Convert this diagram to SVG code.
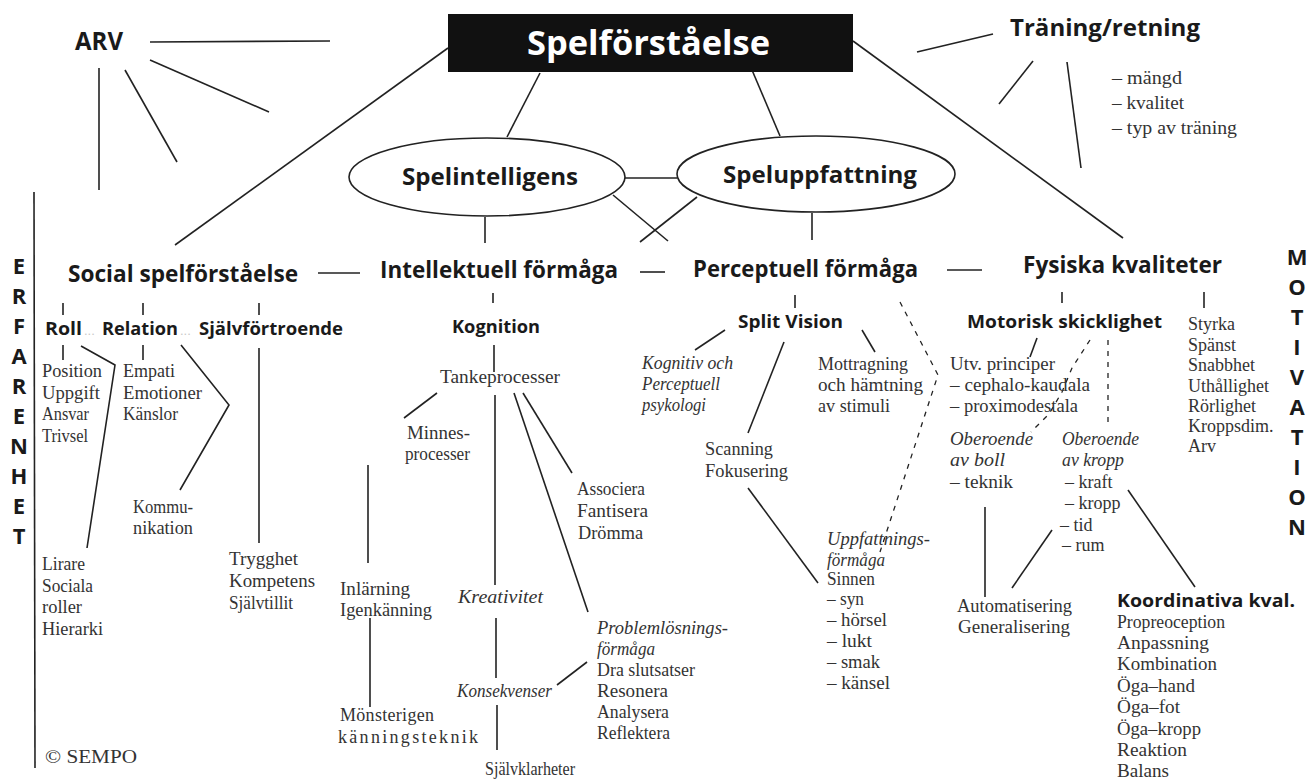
<svg xmlns="http://www.w3.org/2000/svg" width="1309" height="781" viewBox="0 0 1309 781">
<style>
.b{font-family:"Open Sans","Liberation Sans",sans-serif;font-weight:700;fill:#1a1a1a}
.s{font-family:"Liberation Serif","Times New Roman",serif;font-size:18px;fill:#333}
.i{font-style:italic}
.c line,.c polyline{stroke:#222;stroke-width:1.6;fill:none}
.c .d{stroke-dasharray:5 6;stroke-width:1.3}
.dots{font-family:"Liberation Sans",sans-serif;font-size:13px;fill:#c8c8c8}
</style>
<rect width="1309" height="781" fill="#fff"/>

<g id="connectors" class="c">
<line x1="150" y1="42" x2="330" y2="41"/>
<line x1="150" y1="60" x2="269" y2="112"/>
<line x1="125" y1="70" x2="177" y2="162"/>
<line x1="99" y1="68" x2="99" y2="190"/>
<line x1="34" y1="192" x2="35" y2="768"/>
<line x1="448" y1="48" x2="175" y2="245"/>
<line x1="540" y1="73" x2="507" y2="137"/>
<line x1="752" y1="70" x2="780" y2="136"/>
<line x1="853" y1="41" x2="1123" y2="238"/>
<line x1="917" y1="52" x2="993" y2="34"/>
<line x1="1033" y1="61" x2="999" y2="104"/>
<line x1="1067" y1="62" x2="1081" y2="168"/>
<line x1="625" y1="178" x2="677" y2="178"/>
<line x1="613" y1="195" x2="668" y2="241"/>
<line x1="697" y1="197" x2="640" y2="242"/>
<line x1="485" y1="217" x2="485" y2="243"/>
<line x1="812" y1="213" x2="812" y2="240"/>
<line x1="318" y1="273" x2="360" y2="273"/>
<line x1="640" y1="272" x2="665" y2="272"/>
<line x1="947" y1="270" x2="982" y2="270"/>
<line x1="63" y1="303" x2="63" y2="315"/>
<line x1="143" y1="303" x2="143" y2="315"/>
<line x1="259" y1="303" x2="259" y2="315"/>
<line x1="63" y1="345" x2="63" y2="360"/>
<line x1="143" y1="345" x2="143" y2="360"/>
<polyline points="81,346 115,365 87,548"/>
<polyline points="181,345 229,405 180,490"/>
<line x1="259" y1="348" x2="259" y2="543"/>
<line x1="493" y1="293" x2="493" y2="303"/>
<line x1="494" y1="345" x2="494" y2="372"/>
<line x1="437" y1="393" x2="404" y2="418"/>
<line x1="368" y1="465" x2="368" y2="563"/>
<line x1="370" y1="618" x2="370" y2="707"/>
<line x1="495" y1="395" x2="495" y2="585"/>
<line x1="514" y1="393" x2="588" y2="612"/>
<line x1="523" y1="393" x2="572" y2="473"/>
<line x1="496" y1="618" x2="496" y2="678"/>
<line x1="557" y1="685" x2="587" y2="662"/>
<line x1="497" y1="705" x2="497" y2="750"/>
<line x1="795" y1="295" x2="795" y2="308"/>
<line x1="725" y1="330" x2="695" y2="350"/>
<line x1="784" y1="342" x2="748" y2="433"/>
<line x1="862" y1="330" x2="875" y2="352"/>
<line x1="748" y1="488" x2="818" y2="583"/>
<polyline class="d" points="900,302 938,375 880,552"/>
<line x1="1062" y1="292" x2="1062" y2="303"/>
<line x1="1204" y1="292" x2="1204" y2="308"/>
<line x1="1037" y1="338" x2="1030" y2="357"/>
<polyline class="d" points="1090,340 1072,368 1062,392 1049,414 1031,432"/>
<line class="d" x1="1108" y1="340" x2="1108" y2="427"/>
<line x1="985" y1="507" x2="985" y2="597"/>
<line x1="1012" y1="588" x2="1052" y2="530"/>
<line x1="1128" y1="490" x2="1195" y2="587"/>
</g>

<g id="spelforstaelse">
<rect x="448" y="14" width="405" height="58" fill="#111"/>
<text class="b" x="527" y="55" font-size="34" textLength="243" lengthAdjust="spacingAndGlyphs" style="fill:#fff">Spelförståelse</text>
</g>

<g id="arv"><text class="b" x="75" y="50" font-size="25" textLength="48" lengthAdjust="spacingAndGlyphs">ARV</text></g>

<g id="traning">
<text class="b" x="1010" y="36" font-size="23" textLength="190" lengthAdjust="spacingAndGlyphs">Träning/retning</text>
<text class="s" x="1112" y="84" font-size="17" textLength="70" lengthAdjust="spacingAndGlyphs">– mängd</text>
<text class="s" x="1112" y="109" font-size="17" textLength="72" lengthAdjust="spacingAndGlyphs">– kvalitet</text>
<text class="s" x="1112" y="134" font-size="17" textLength="125" lengthAdjust="spacingAndGlyphs">– typ av träning</text>
</g>

<g id="spelintelligens">
<ellipse cx="487" cy="177" rx="138" ry="39" fill="#fff" stroke="#222" stroke-width="1.6"/>
<text class="b" x="402" y="185" font-size="23" textLength="176" lengthAdjust="spacingAndGlyphs">Spelintelligens</text>
</g>

<g id="speluppfattning">
<ellipse cx="816" cy="174" rx="139" ry="38" fill="#fff" stroke="#222" stroke-width="1.6"/>
<text class="b" x="723" y="183" font-size="23" textLength="194" lengthAdjust="spacingAndGlyphs">Speluppfattning</text>
</g>

<g id="erfarenhet" class="b" font-size="22" text-anchor="middle">
<text x="19" y="274">E</text><text x="19" y="304">R</text><text x="19" y="334">F</text><text x="19" y="364">A</text><text x="19" y="394">R</text><text x="19" y="424">E</text><text x="19" y="454">N</text><text x="19" y="484">H</text><text x="19" y="514">E</text><text x="19" y="544">T</text>
</g>

<g id="motivation" class="b" font-size="22" text-anchor="middle">
<text x="1297" y="265">M</text><text x="1297" y="295">O</text><text x="1297" y="325">T</text><text x="1297" y="355">I</text><text x="1297" y="385">V</text><text x="1297" y="415">A</text><text x="1297" y="445">T</text><text x="1297" y="475">I</text><text x="1297" y="505">O</text><text x="1297" y="535">N</text>
</g>

<g id="social">
<text class="b" x="68" y="282" font-size="23" textLength="230" lengthAdjust="spacingAndGlyphs">Social spelförståelse</text>
<text class="b" x="45" y="335" font-size="17" textLength="37" lengthAdjust="spacingAndGlyphs">Roll</text>
<text class="dots" x="84" y="335">...</text>
<text class="b" x="102" y="335" font-size="17" textLength="76" lengthAdjust="spacingAndGlyphs">Relation</text>
<text class="dots" x="180" y="335">...</text>
<text class="b" x="199" y="335" font-size="17" textLength="144" lengthAdjust="spacingAndGlyphs">Självförtroende</text>
<text class="s" x="42" y="377" textLength="60" lengthAdjust="spacingAndGlyphs">Position</text>
<text class="s" x="42" y="399" textLength="58" lengthAdjust="spacingAndGlyphs">Uppgift</text>
<text class="s" x="42" y="420" textLength="47" lengthAdjust="spacingAndGlyphs">Ansvar</text>
<text class="s" x="42" y="442" textLength="46" lengthAdjust="spacingAndGlyphs">Trivsel</text>
<text class="s" x="123" y="377" textLength="52" lengthAdjust="spacingAndGlyphs">Empati</text>
<text class="s" x="123" y="399" textLength="79" lengthAdjust="spacingAndGlyphs">Emotioner</text>
<text class="s" x="123" y="420" textLength="55" lengthAdjust="spacingAndGlyphs">Känslor</text>
<text class="s" x="133" y="513" textLength="60" lengthAdjust="spacingAndGlyphs">Kommu-</text>
<text class="s" x="133" y="534" textLength="60" lengthAdjust="spacingAndGlyphs">nikation</text>
<text class="s" x="42" y="570" textLength="43" lengthAdjust="spacingAndGlyphs">Lirare</text>
<text class="s" x="42" y="592" textLength="51" lengthAdjust="spacingAndGlyphs">Sociala</text>
<text class="s" x="42" y="613" textLength="40" lengthAdjust="spacingAndGlyphs">roller</text>
<text class="s" x="42" y="635" textLength="61" lengthAdjust="spacingAndGlyphs">Hierarki</text>
<text class="s" x="229" y="565" textLength="69" lengthAdjust="spacingAndGlyphs">Trygghet</text>
<text class="s" x="229" y="587" textLength="86" lengthAdjust="spacingAndGlyphs">Kompetens</text>
<text class="s" x="229" y="609" textLength="64" lengthAdjust="spacingAndGlyphs">Självtillit</text>
</g>

<g id="intellektuell">
<text class="b" x="380" y="278" font-size="23" textLength="238" lengthAdjust="spacingAndGlyphs">Intellektuell förmåga</text>
<text class="b" x="452" y="333" font-size="17" textLength="88" lengthAdjust="spacingAndGlyphs">Kognition</text>
<text class="s" x="440" y="383" textLength="120" lengthAdjust="spacingAndGlyphs">Tankeprocesser</text>
<text class="s" x="407" y="439" textLength="63" lengthAdjust="spacingAndGlyphs">Minnes-</text>
<text class="s" x="405" y="460" textLength="65" lengthAdjust="spacingAndGlyphs">processer</text>
<text class="s" x="577" y="495" textLength="68" lengthAdjust="spacingAndGlyphs">Associera</text>
<text class="s" x="577" y="517" textLength="71" lengthAdjust="spacingAndGlyphs">Fantisera</text>
<text class="s" x="578" y="539" textLength="65" lengthAdjust="spacingAndGlyphs">Drömma</text>
<text class="s" x="340" y="595" textLength="70" lengthAdjust="spacingAndGlyphs">Inlärning</text>
<text class="s" x="340" y="616" textLength="92" lengthAdjust="spacingAndGlyphs">Igenkänning</text>
<text class="s" x="340" y="721" textLength="94" lengthAdjust="spacing">Mönsterigen</text>
<text class="s" x="338" y="743" textLength="140" lengthAdjust="spacing">känningsteknik</text>
<text class="s i" x="458" y="603" textLength="85" lengthAdjust="spacingAndGlyphs">Kreativitet</text>
<text class="s i" x="457" y="697" textLength="95" lengthAdjust="spacingAndGlyphs">Konsekvenser</text>
<text class="s" x="485" y="775" textLength="90" lengthAdjust="spacingAndGlyphs">Självklarheter</text>
<text class="s i" x="597" y="634" textLength="131" lengthAdjust="spacingAndGlyphs">Problemlösnings-</text>
<text class="s i" x="597" y="655" textLength="58" lengthAdjust="spacingAndGlyphs">förmåga</text>
<text class="s" x="597" y="676" textLength="98" lengthAdjust="spacingAndGlyphs">Dra slutsatser</text>
<text class="s" x="597" y="697" textLength="71" lengthAdjust="spacingAndGlyphs">Resonera</text>
<text class="s" x="597" y="718" textLength="72" lengthAdjust="spacingAndGlyphs">Analysera</text>
<text class="s" x="597" y="739" textLength="73" lengthAdjust="spacingAndGlyphs">Reflektera</text>
</g>

<g id="perceptuell">
<text class="b" x="693" y="277" font-size="23" textLength="225" lengthAdjust="spacingAndGlyphs">Perceptuell förmåga</text>
<text class="b" x="738" y="328" font-size="17" textLength="105" lengthAdjust="spacingAndGlyphs">Split Vision</text>
<text class="s i" x="642" y="369" textLength="91" lengthAdjust="spacingAndGlyphs">Kognitiv och</text>
<text class="s i" x="642" y="390" textLength="78" lengthAdjust="spacingAndGlyphs">Perceptuell</text>
<text class="s i" x="642" y="411" textLength="64" lengthAdjust="spacingAndGlyphs">psykologi</text>
<text class="s" x="818" y="370" textLength="90" lengthAdjust="spacingAndGlyphs">Mottragning</text>
<text class="s" x="818" y="391" textLength="105" lengthAdjust="spacingAndGlyphs">och hämtning</text>
<text class="s" x="818" y="412" textLength="72" lengthAdjust="spacingAndGlyphs">av stimuli</text>
<text class="s" x="705" y="455" textLength="68" lengthAdjust="spacingAndGlyphs">Scanning</text>
<text class="s" x="705" y="477" textLength="83" lengthAdjust="spacingAndGlyphs">Fokusering</text>
<text class="s i" x="827" y="545" textLength="103" lengthAdjust="spacingAndGlyphs">Uppfattnings-</text>
<text class="s i" x="827" y="566" textLength="58" lengthAdjust="spacingAndGlyphs">förmåga</text>
<text class="s" x="827" y="585" textLength="48" lengthAdjust="spacingAndGlyphs">Sinnen</text>
<text class="s" x="827" y="605" textLength="37" lengthAdjust="spacingAndGlyphs">– syn</text>
<text class="s" x="827" y="626" textLength="60" lengthAdjust="spacingAndGlyphs">– hörsel</text>
<text class="s" x="827" y="647" textLength="45" lengthAdjust="spacingAndGlyphs">– lukt</text>
<text class="s" x="827" y="668" textLength="53" lengthAdjust="spacingAndGlyphs">– smak</text>
<text class="s" x="827" y="689" textLength="63" lengthAdjust="spacingAndGlyphs">– känsel</text>
</g>

<g id="fysiska">
<text class="b" x="1023" y="273" font-size="23" textLength="199" lengthAdjust="spacingAndGlyphs">Fysiska kvaliteter</text>
<text class="b" x="967" y="328" font-size="17" textLength="195" lengthAdjust="spacingAndGlyphs">Motorisk skicklighet</text>
<text class="s" x="950" y="370" textLength="105" lengthAdjust="spacingAndGlyphs">Utv. principer</text>
<text class="s" x="950" y="391" textLength="140" lengthAdjust="spacingAndGlyphs">– cephalo-kaudala</text>
<text class="s" x="950" y="412" textLength="128" lengthAdjust="spacingAndGlyphs">– proximodestala</text>
<text class="s i" x="950" y="445" textLength="83" lengthAdjust="spacingAndGlyphs">Oberoende</text>
<text class="s i" x="950" y="466" textLength="55" lengthAdjust="spacingAndGlyphs">av boll</text>
<text class="s" x="950" y="488" textLength="63" lengthAdjust="spacingAndGlyphs">– teknik</text>
<text class="s i" x="1062" y="445" textLength="77" lengthAdjust="spacingAndGlyphs">Oberoende</text>
<text class="s i" x="1062" y="466" textLength="62" lengthAdjust="spacingAndGlyphs">av kropp</text>
<text class="s" x="1065" y="488" font-size="17">– kraft</text>
<text class="s" x="1065" y="509" font-size="17">– kropp</text>
<text class="s" x="1060" y="531" font-size="17">– tid</text>
<text class="s" x="1062" y="551" font-size="17">– rum</text>
<text class="s" x="1188" y="330" font-size="16.5">Styrka</text>
<text class="s" x="1188" y="351" font-size="16.5">Spänst</text>
<text class="s" x="1188" y="371" font-size="16.5">Snabbhet</text>
<text class="s" x="1188" y="392" font-size="16.5">Uthållighet</text>
<text class="s" x="1188" y="412" font-size="16.5">Rörlighet</text>
<text class="s" x="1188" y="432" font-size="16.5">Kroppsdim.</text>
<text class="s" x="1188" y="452" font-size="16.5">Arv</text>
<text class="s" x="957" y="612" textLength="115" lengthAdjust="spacingAndGlyphs">Automatisering</text>
<text class="s" x="958" y="633" textLength="112" lengthAdjust="spacingAndGlyphs">Generalisering</text>
<text class="b" x="1117" y="607" font-size="17" textLength="178" lengthAdjust="spacingAndGlyphs">Koordinativa kval.</text>
<text class="s" x="1117" y="628" textLength="108" lengthAdjust="spacingAndGlyphs">Propreoception</text>
<text class="s" x="1117" y="649" textLength="92" lengthAdjust="spacingAndGlyphs">Anpassning</text>
<text class="s" x="1117" y="670" textLength="100" lengthAdjust="spacingAndGlyphs">Kombination</text>
<text class="s" x="1117" y="692" textLength="78" lengthAdjust="spacingAndGlyphs">Öga–hand</text>
<text class="s" x="1117" y="713" textLength="63" lengthAdjust="spacingAndGlyphs">Öga–fot</text>
<text class="s" x="1117" y="735" textLength="84" lengthAdjust="spacingAndGlyphs">Öga–kropp</text>
<text class="s" x="1117" y="756" textLength="70" lengthAdjust="spacingAndGlyphs">Reaktion</text>
<text class="s" x="1117" y="777" textLength="52" lengthAdjust="spacingAndGlyphs">Balans</text>
</g>

<g id="copyright"><text class="s" x="45" y="763" font-size="18" textLength="92" lengthAdjust="spacingAndGlyphs">© SEMPO</text></g>
</svg>
